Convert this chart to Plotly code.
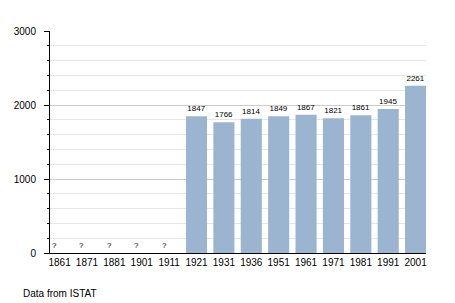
import plotly.graph_objects as go

years = ["1861", "1871", "1881", "1901", "1911", "1921", "1931", "1936",
         "1951", "1961", "1971", "1981", "1991", "2001"]
population = [None, None, None, None, None, 1847, 1766, 1814,
              1849, 1867, 1821, 1861, 1945, 2261]
y_ticks = [0, 1000, 2000, 3000]
source_note = "Data from ISTAT"

FONT = "Liberation Sans, Arial, sans-serif"
BAR = "#9bb4cf"

fig = go.Figure()
fig.add_trace(go.Bar(
    x=list(range(len(years))), y=[v if v is not None else 0 for v in population],
    marker=dict(color=BAR, line=dict(width=0)),
    text=[str(v) if v is not None else "" for v in population],
    textposition="outside", constraintext="none",
    textfont=dict(family=FONT, size=8, color="black"),
    cliponaxis=False, hoverinfo="skip",
))

for i, v in enumerate(population):
    if v is None:
        fig.add_annotation(x=i, y=0, xref="x", yref="y", text="?", showarrow=False,
                           yanchor="bottom", xshift=-5, yshift=1,
                           font=dict(family=FONT, size=8, color="black"))

fig.add_annotation(xref="paper", yref="paper", x=-0.077, y=-0.15,
                   xanchor="left", yanchor="top", text=source_note,
                   showarrow=False, font=dict(family=FONT, size=10, color="black"))

fig.update_layout(
    width=455, height=303,
    margin=dict(l=50, r=29, t=31, b=50),
    paper_bgcolor="white", plot_bgcolor="white",
    showlegend=False, bargap=0.23,
    font=dict(family=FONT, size=10, color="black"),
    xaxis=dict(range=[-0.35, 13.38], tickvals=list(range(len(years))), ticktext=years,
               showline=True, linecolor="black", linewidth=1,
               ticks="", showgrid=False, zeroline=False, tickfont=dict(size=10),
               fixedrange=True),
    yaxis=dict(range=[0, 3000], tickvals=y_ticks, showline=True, linecolor="black",
               linewidth=1, ticks="outside", ticklen=5, tickcolor="black",
               showgrid=True, gridcolor="#cccccc", gridwidth=1,
               zeroline=False, ticklabelstandoff=6, tickfont=dict(size=10),
               minor=dict(dtick=200, ticks="outside", ticklen=2, tickcolor="black",
                          showgrid=True, gridcolor="#e6e6e6", gridwidth=1)),
)

fig.write_html("out.html")
